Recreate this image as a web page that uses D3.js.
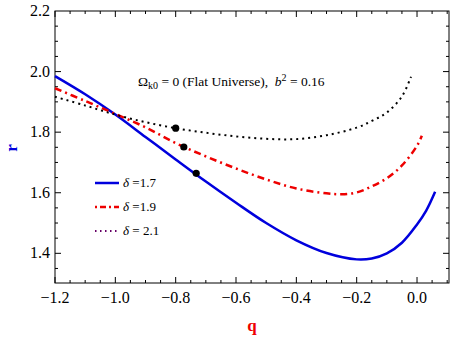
<!DOCTYPE html>
<html>
<head>
<meta charset="utf-8">
<script src="https://cdn.jsdelivr.net/npm/d3@7"></script>
<style>
  body { margin: 0; background: #fff; }
  svg text { font-family: "Liberation Serif", "Times New Roman", "DejaVu Serif", serif; }
</style>
</head>
<body>
<div class="canva"></div>
<script>
// data
const qBlue = [-1.2, -1.1, -1.0, -0.9, -0.8, -0.7, -0.6, -0.5, -0.4, -0.3, -0.2, -0.15, -0.1, -0.05, 0.0, 0.03, 0.06];
const rBlue = [1.985, 1.925, 1.858, 1.784, 1.710, 1.637, 1.567, 1.500, 1.443, 1.401, 1.380, 1.383, 1.400, 1.435, 1.495, 1.540, 1.603];

const qRed = [-1.2, -1.1, -1.0, -0.9, -0.8, -0.7, -0.6, -0.5, -0.4, -0.3, -0.25, -0.2, -0.15, -0.1, -0.05, 0.0, 0.016];
const rRed = [1.945, 1.903, 1.860, 1.816, 1.764, 1.720, 1.680, 1.644, 1.614, 1.598, 1.595, 1.601, 1.621, 1.648, 1.690, 1.755, 1.788];

const qBlack = [-1.2, -1.1, -1.0, -0.9, -0.8, -0.7, -0.6, -0.5, -0.4, -0.3, -0.2, -0.15, -0.1, -0.05, -0.02];
const rBlack = [1.917, 1.888, 1.858, 1.833, 1.813, 1.798, 1.786, 1.778, 1.777, 1.790, 1.815, 1.837, 1.865, 1.918, 1.983];

const markQ = [-0.80, -0.773, -0.732];
const markR = [1.813, 1.751, 1.664];

const legendLabels = ["1.7", "1.9", "2.1"];
const xTicks = [-1.2, -1.0, -0.8, -0.6, -0.4, -0.2, 0.0];
const yTicks = [1.4, 1.6, 1.8, 2.0, 2.2];

const svg = d3.select(".canva").append("svg")
    .attr("width", 450)
    .attr("height", 337)
    .attr("font-family", "Liberation Serif, serif");

const margin = {top: 11, right: 1, bottom: 54, left: 55};
const width = 450 - margin.left - margin.right;
const height = 337 - margin.top - margin.bottom;

const graph = svg.append("g")
    .attr("transform", `translate(${margin.left}, ${margin.top})`);

const x = d3.scaleLinear().domain([-1.2, 0.106]).range([0, width]);
const y = d3.scaleLinear().domain([1.302, 2.2]).range([height, 0]);

const fmt = d => d3.format(".1f")(d).replace("-", "\u2212");
const minorX = d3.range(-1.2, 0.11, 0.05);
const minorY = d3.range(1.35, 2.2, 0.05);

// frame with inward ticks on all sides
graph.append("rect")
    .attr("width", width).attr("height", height)
    .attr("fill", "none").attr("stroke", "#000").attr("stroke-width", 1);

const tickG = graph.append("g").attr("stroke", "#000").attr("stroke-width", 1);
minorX.forEach(v => {
    const big = xTicks.some(t => Math.abs(t - v) < 1e-6);
    const len = big ? 6 : 3;
    tickG.append("line").attr("x1", x(v)).attr("x2", x(v)).attr("y1", height).attr("y2", height - len);
    tickG.append("line").attr("x1", x(v)).attr("x2", x(v)).attr("y1", 0).attr("y2", len);
});
minorY.forEach(v => {
    const big = yTicks.some(t => Math.abs(t - v) < 1e-6);
    const len = big ? 6 : 3;
    tickG.append("line").attr("y1", y(v)).attr("y2", y(v)).attr("x1", 0).attr("x2", len);
    tickG.append("line").attr("y1", y(v)).attr("y2", y(v)).attr("x1", width).attr("x2", width - len);
});

graph.selectAll(".xlab")
    .data(xTicks)
    .enter().append("text")
    .attr("x", d => x(d))
    .attr("y", height + 20)
    .attr("text-anchor", "middle")
    .style("font-size", "16px")
    .text(fmt);

graph.selectAll(".ylab")
    .data(yTicks)
    .enter().append("text")
    .attr("x", -5)
    .attr("y", d => y(d) + 5)
    .attr("text-anchor", "end")
    .style("font-size", "16px")
    .text(fmt);

// curves
const line = d3.line()
    .x(d => x(d[0]))
    .y(d => y(d[1]))
    .curve(d3.curveCatmullRom);

const series = [
    {q: qBlue, r: rBlue, color: "#0000dd", width: 2.5, dash: null},
    {q: qRed, r: rRed, color: "#ee0000", width: 2.5, dash: "7,4,2,4"},
    {q: qBlack, r: rBlack, color: "#000", width: 2, dash: "2,4"}
];

const plot = graph.append("g");
series.forEach(s => {
    plot.append("path")
        .datum(s.q.map((v, i) => [v, s.r[i]]))
        .attr("d", line)
        .attr("fill", "none")
        .attr("stroke", s.color)
        .attr("stroke-width", s.width)
        .attr("stroke-dasharray", s.dash);
});

plot.selectAll("circle")
    .data(markQ.map((v, i) => [v, markR[i]]))
    .enter().append("circle")
    .attr("cx", d => x(d[0]))
    .attr("cy", d => y(d[1]))
    .attr("r", 3.6)
    .attr("fill", "#000");

// annotation
const note = graph.append("text")
    .attr("x", 83)
    .attr("y", 75)
    .attr("xml:space", "preserve")
    .style("white-space", "pre")
    .style("font-size", "13.5px");
note.append("tspan").text("\u03A9");
note.append("tspan").attr("dy", 3).style("font-size", "10px").text("k0");
note.append("tspan").attr("dy", -3).text(" = 0 (Flat Universe),  ");
note.append("tspan").style("font-style", "italic").text("b");
note.append("tspan").attr("dy", -5).style("font-size", "10px").text("2");
note.append("tspan").attr("dy", 5).text(" = 0.16");

// legend
const legendStyles = [
    {color: "#0000dd", dash: null, width: 2.5},
    {color: "#ee0000", dash: "2,3,6,3", width: 2.5},
    {color: "#660066", dash: "1.5,3.5", width: 2}
];
const legend = graph.append("g").attr("transform", "translate(40, 172)");
legendLabels.forEach((lab, i) => {
    const row = legend.append("g").attr("transform", `translate(0, ${i * 24})`);
    row.append("line")
        .attr("x1", 0).attr("x2", 24)
        .attr("stroke", legendStyles[i].color)
        .attr("stroke-width", legendStyles[i].width)
        .attr("stroke-dasharray", legendStyles[i].dash);
    const t = row.append("text").attr("x", 28).attr("y", 4).style("font-size", "13px");
    t.append("tspan").style("font-style", "italic").text("\u03B4");
    t.append("tspan").text(i === 2 ? " = " + lab : " =" + lab);
});

// axis titles
svg.append("text")
    .attr("transform", "translate(17, 148) rotate(-90)")
    .attr("text-anchor", "middle")
    .style("font-size", "17px")
    .style("font-weight", "bold")
    .attr("fill", "#0000dd")
    .text("r");

svg.append("text")
    .attr("x", 252)
    .attr("y", 331)
    .attr("text-anchor", "middle")
    .style("font-size", "17px")
    .style("font-weight", "bold")
    .attr("fill", "#ee0000")
    .text("q");
</script>
</body>
</html>
